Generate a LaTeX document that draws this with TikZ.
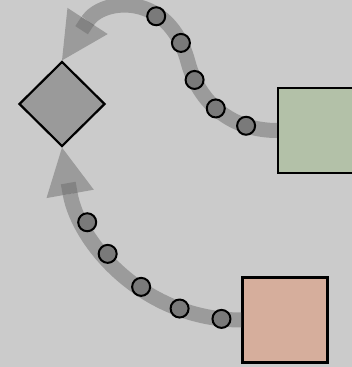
\documentclass[tikz,border=0pt]{standalone}
\usetikzlibrary{arrows.meta,shapes.geometric}
\newlength{\BoxSize}
\newlength{\TokenSize}
\setlength{\BoxSize}{85pt}
\setlength{\TokenSize}{18pt}
\definecolor{canvas}{RGB}{203,203,203}
\definecolor{gatefill}{RGB}{154,154,154}
\definecolor{tokenfill}{RGB}{122,122,122}
\definecolor{flowgray}{RGB}{108,108,108}
\definecolor{boxgreen}{RGB}{179,193,168}
\definecolor{boxpink}{RGB}{214,174,156}
\tikzset{
  gate node/.style={draw, diamond, fill=gatefill, line width=2.2pt, minimum width=86pt, minimum height=85pt, inner sep=0pt},
  box node/.style={draw, rectangle, line width=2.2pt, minimum size=\BoxSize, inner sep=0pt},
  token/.style={draw=black, circle, fill=tokenfill, opacity=1, line width=2pt, minimum size=\TokenSize, inner sep=0pt},
  flow/.style={draw=flowgray, line width=15pt, opacity=0.5,
    -{Rectangle[length=11pt, width=15pt, line width=0pt, sep=-11pt]Triangle[length=47pt, width=48pt, line width=0pt]}},
}

\begin{document}
\begin{tikzpicture}[x=1pt, y=1pt]
  \path[use as bounding box, fill=canvas] (0,0) rectangle (352,-367);

  \node[gate node] (gate) at (62,-104) {};
  \node[box node, fill=boxgreen] (srcA) at (320.5,-130.5) {};
  \node[box node, fill=boxpink] (srcB) at (285,-320) {};
  \coordinate (bend) at (188,-62);

  % upper flow
  \draw[flow] (srcA.west) to[out=180, in=285]
      node[token, pos=0.25] (a1) {}
      node[token, pos=0.55] (a2) {}
      node[token, pos=0.85] (a3) {}
    (bend) to[out=105, in=57, looseness=1.5]
      node[token, pos=0.1] (a4) {}
      node[token, pos=0.33] (a5) {}
    (gate.north);

  % lower flow
  \draw[flow] (srcB.west) to[out=180, in=-80]
      node[token, pos=0.07] (b1) {}
      node[token, pos=0.23] (b2) {}
      node[token, pos=0.4] (b3) {}
      node[token, pos=0.58] (b4) {}
      node[token, pos=0.72] (b5) {}
    (gate.south);
\end{tikzpicture}
\end{document}
